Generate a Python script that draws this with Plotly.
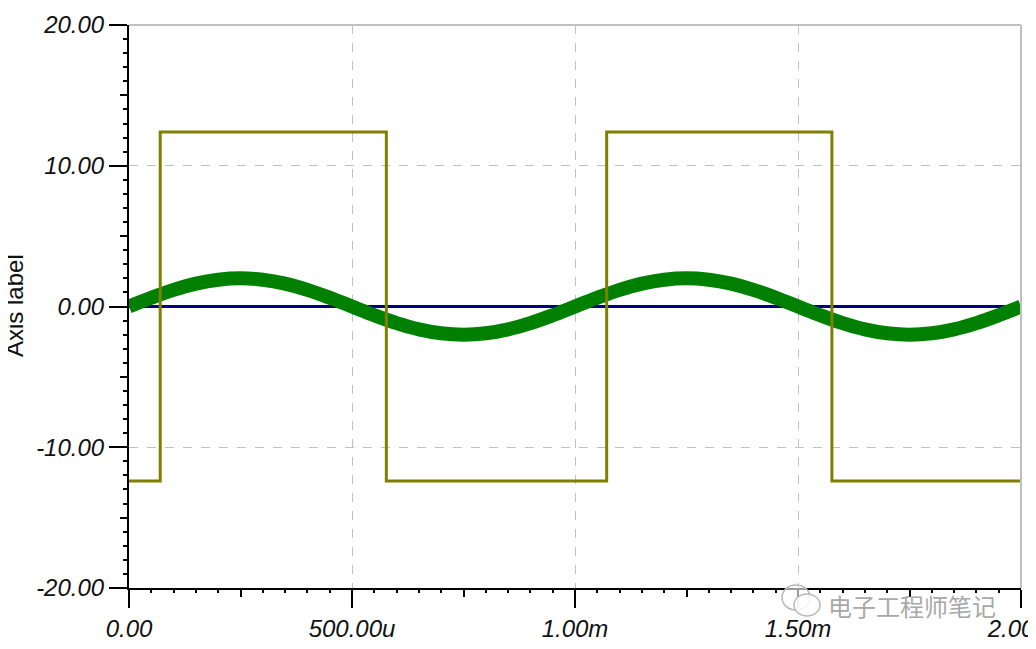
import plotly.graph_objects as go

# ---- data (time in ms) ----
square_t = [0.0, 0.07, 0.577, 1.071, 1.576, 2.0]
square_v = [-12.4, 12.4, -12.4, 12.4, -12.4, -12.4]

sine_t = [0.00, 0.05, 0.10, 0.15, 0.20, 0.25, 0.30, 0.35, 0.40, 0.45,
          0.50, 0.55, 0.60, 0.65, 0.70, 0.75, 0.80, 0.85, 0.90, 0.95,
          1.00, 1.05, 1.10, 1.15, 1.20, 1.25, 1.30, 1.35, 1.40, 1.45,
          1.50, 1.55, 1.60, 1.65, 1.70, 1.75, 1.80, 1.85, 1.90, 1.95, 2.00]
sine_v = [0.00, 0.62, 1.18, 1.62, 1.90, 2.00, 1.90, 1.62, 1.18, 0.62,
          0.00, -0.62, -1.18, -1.62, -1.90, -2.00, -1.90, -1.62, -1.18, -0.62,
          0.00, 0.62, 1.18, 1.62, 1.90, 2.00, 1.90, 1.62, 1.18, 0.62,
          0.00, -0.62, -1.18, -1.62, -1.90, -2.00, -1.90, -1.62, -1.18, -0.62, 0.00]

zero_t = [0.0, 2.0]
zero_v = [0.0, 0.0]

x_tickvals = [0.0, 0.5, 1.0, 1.5, 2.0]
x_ticktext = ["0.00", "500.00u", "1.00m", "1.50m", "2.00m"]
x_mid_ticks = [0.25, 0.75, 1.25, 1.75]
y_tickvals = [-20, -10, 0, 10, 20]
y_ticktext = ["-20.00", "-10.00", "0.00", "10.00", "20.00"]
y_mid_ticks = [-15, -5, 5, 15]

XR = [0, 2.0]
YR = [-20, 20]

tickfont = dict(family="Liberation Sans, Arial, sans-serif", size=24,
                color="#111111", style="italic")

fig = go.Figure()
fig.add_trace(go.Scatter(x=zero_t, y=zero_v, mode="lines",
                         line=dict(color="#000080", width=3),
                         showlegend=False, hoverinfo="skip"))
fig.add_trace(go.Scatter(x=sine_t, y=sine_v, mode="lines",
                         line=dict(color="#008000", width=14, shape="spline"),
                         showlegend=False, hoverinfo="skip"))
fig.add_trace(go.Scatter(x=square_t, y=square_v, mode="lines",
                         line=dict(color="#808000", width=3, shape="hv"),
                         showlegend=False, hoverinfo="skip"))
# dummy trace to activate overlay axes used for medium ticks
fig.add_trace(go.Scatter(x=[None], y=[None], xaxis="x2", yaxis="y2",
                         showlegend=False, hoverinfo="skip"))

# page body has an 8px margin: figure spans screen x 8..1036, y 8..649
fig.update_layout(
    width=1028, height=641,
    margin=dict(l=121, r=15, t=17, b=61, autoexpand=False),
    paper_bgcolor="white", plot_bgcolor="white",
    xaxis=dict(range=XR, tickvals=x_tickvals, ticktext=x_ticktext,
               automargin=False, ticklabeloverflow="allow",
               ticks="outside", ticklen=18, tickwidth=2, tickcolor="black",
               showline=True, linecolor="black", linewidth=2,
               showgrid=True, gridcolor="#c0c0c0", griddash="dash", gridwidth=1,
               zeroline=False, tickfont=tickfont,
               minor=dict(dtick=0.05, tick0=0, ticks="outside", ticklen=3,
                          tickwidth=2, tickcolor="black", showgrid=False)),
    yaxis=dict(range=YR, tickvals=y_tickvals, ticktext=y_ticktext,
               automargin=False, ticklabeloverflow="allow",
               ticks="outside", ticklen=18, tickwidth=2, tickcolor="black",
               showline=True, linecolor="black", linewidth=2,
               showgrid=True, gridcolor="#c0c0c0", griddash="dash", gridwidth=1,
               zeroline=False, tickfont=tickfont,
               minor=dict(dtick=1, tick0=0, ticks="outside", ticklen=4,
                          tickwidth=2, tickcolor="black", showgrid=False)),
    xaxis2=dict(range=XR, overlaying="x", anchor="y2", side="bottom",
                automargin=False,
                tickvals=x_mid_ticks, ticks="outside", ticklen=8, tickwidth=2,
                tickcolor="black", showticklabels=False, showgrid=False,
                zeroline=False, showline=False),
    yaxis2=dict(range=YR, overlaying="y", anchor="x2", side="left",
                automargin=False,
                tickvals=y_mid_ticks, ticks="outside", ticklen=8, tickwidth=2,
                tickcolor="black", showticklabels=False, showgrid=False,
                zeroline=False, showline=False),
    shapes=[
        dict(type="line", xref="paper", yref="paper", x0=0, x1=1, y0=1, y1=1,
             line=dict(color="#c0c0c0", width=2)),
        dict(type="line", xref="paper", yref="paper", x0=1, x1=1, y0=0, y1=1,
             line=dict(color="#c0c0c0", width=2)),
        # watermark icon (two speech bubbles)
        dict(type="circle", xref="paper", yref="paper",
             x0=(782 - 129) / 892, x1=(810 - 129) / 892,
             y0=(588 - 610) / 563, y1=(588 - 585) / 563,
             line=dict(color="#b8b8b8", width=1.5), fillcolor="rgba(255,255,255,0.6)"),
        dict(type="circle", xref="paper", yref="paper",
             x0=(794 - 129) / 892, x1=(820 - 129) / 892,
             y0=(588 - 616) / 563, y1=(588 - 594) / 563,
             line=dict(color="#b8b8b8", width=1.5), fillcolor="rgba(255,255,255,0.85)"),
    ],
    annotations=[
        dict(text="Axis label", textangle=-90, xref="paper", yref="paper",
             x=(14 - 129) / 892, y=(588 - 305) / 563, xanchor="center",
             yanchor="middle", showarrow=False,
             font=dict(family="Liberation Sans, Arial, sans-serif", size=24,
                       color="#111111")),
        dict(text="电子工程师笔记", xref="paper", yref="paper",
             x=(826 - 129) / 892, y=(588 - 605) / 563, xanchor="left",
             yanchor="middle", showarrow=False,
             font=dict(family="Noto Sans CJK SC", size=24, color="#a8a8a8")),
    ],
)

fig.write_html("out.html")
